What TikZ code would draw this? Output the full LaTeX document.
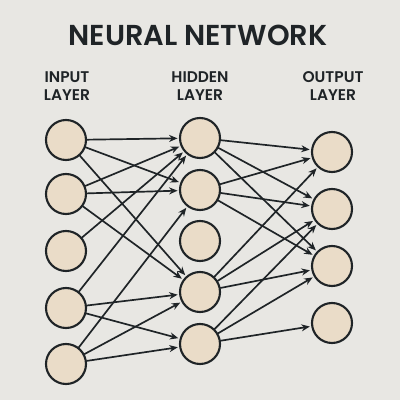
\documentclass[tikz,border=0pt]{standalone}
\usepackage{fontspec}
\setmainfont{Poppins}[BoldFont={Poppins SemiBold}]
\usetikzlibrary{arrows.meta}
\definecolor{figink}{HTML}{1F2427}
\definecolor{figfill}{HTML}{EADCC8}
\definecolor{figbg}{HTML}{E8E7E3}

\begin{document}
\begin{tikzpicture}[
  x=0.025cm, y=-0.025cm,
  line width=1.2pt, line cap=round, line join=round,
  >={Stealth[length=6pt, width=5pt]},
  neuron/.style = {draw=figink, line width=1.5pt, fill=figfill, circle,
                   minimum size=1cm, inner sep=0pt, anchor=center},
  edge/.style   = {->, draw=figink, shorten >=1pt},
  ttl/.style    = {font=\fontsize{20.5}{24}\selectfont\bfseries, color=figink},
  lbl/.style    = {font=\fontsize{11}{13}\selectfont\bfseries, color=figink,
                   align=center}
]

\fill[figbg] (0,0) rectangle (400,400);
\useasboundingbox (0,0) rectangle (400,400);

\node[ttl] (title) at (198,35) {NEURAL NETWORK};
\node[lbl] (lin)  at (67,86)  {INPUT\\LAYER};
\node[lbl] (lhid) at (200,86) {HIDDEN\\LAYER};
\node[lbl] (lout) at (333,86) {OUTPUT\\LAYER};

% input layer
\node[neuron] (i1) at (66,140) {};
\node[neuron] (i2) at (66,194) {};
\node[neuron] (i3) at (66,251) {};
\node[neuron] (i4) at (66,308) {};
\node[neuron] (i5) at (66,364) {};

% hidden layer
\node[neuron] (h1) at (200,138) {};
\node[neuron] (h2) at (200,190) {};
\node[neuron] (h3) at (200,241) {};
\node[neuron] (h4) at (200,292) {};
\node[neuron] (h5) at (200,344) {};

% output layer
\node[neuron] (o1) at (332,152) {};
\node[neuron] (o2) at (332,209) {};
\node[neuron] (o3) at (332,266) {};
\node[neuron] (o4) at (332,323) {};

% input -> hidden
\draw[edge] (i1) -- (h1);
\draw[edge] (i1) -- (h2);
\draw[edge] (i1) -- (h4);
\draw[edge] (i2) -- (h1);
\draw[edge] (i2) -- (h2);
\draw[edge] (i2) -- (h4);
\draw[edge] (i3) -- (h1);
\draw[edge] (i4) -- (h1);
\draw[edge] (i4) -- (h4);
\draw[edge] (i4) -- (h5);
\draw[edge] (i5) -- (h2);
\draw[edge] (i5) -- (h4);
\draw[edge] (i5) -- (h5);

% hidden -> output
\draw[edge] (h1) -- (o1);
\draw[edge] (h1) -- (o2);
\draw[edge] (h1) -- (o3);
\draw[edge] (h2) -- (o1);
\draw[edge] (h2) -- (o2);
\draw[edge] (h2) -- (o3);
\draw[edge] (h4) -- (o1);
\draw[edge] (h4) -- (o2);
\draw[edge] (h4) -- (o3);
\draw[edge] (h5) -- (o2);
\draw[edge] (h5) -- (o3);
\draw[edge] (h5) -- (o4);

\end{tikzpicture}
\end{document}
